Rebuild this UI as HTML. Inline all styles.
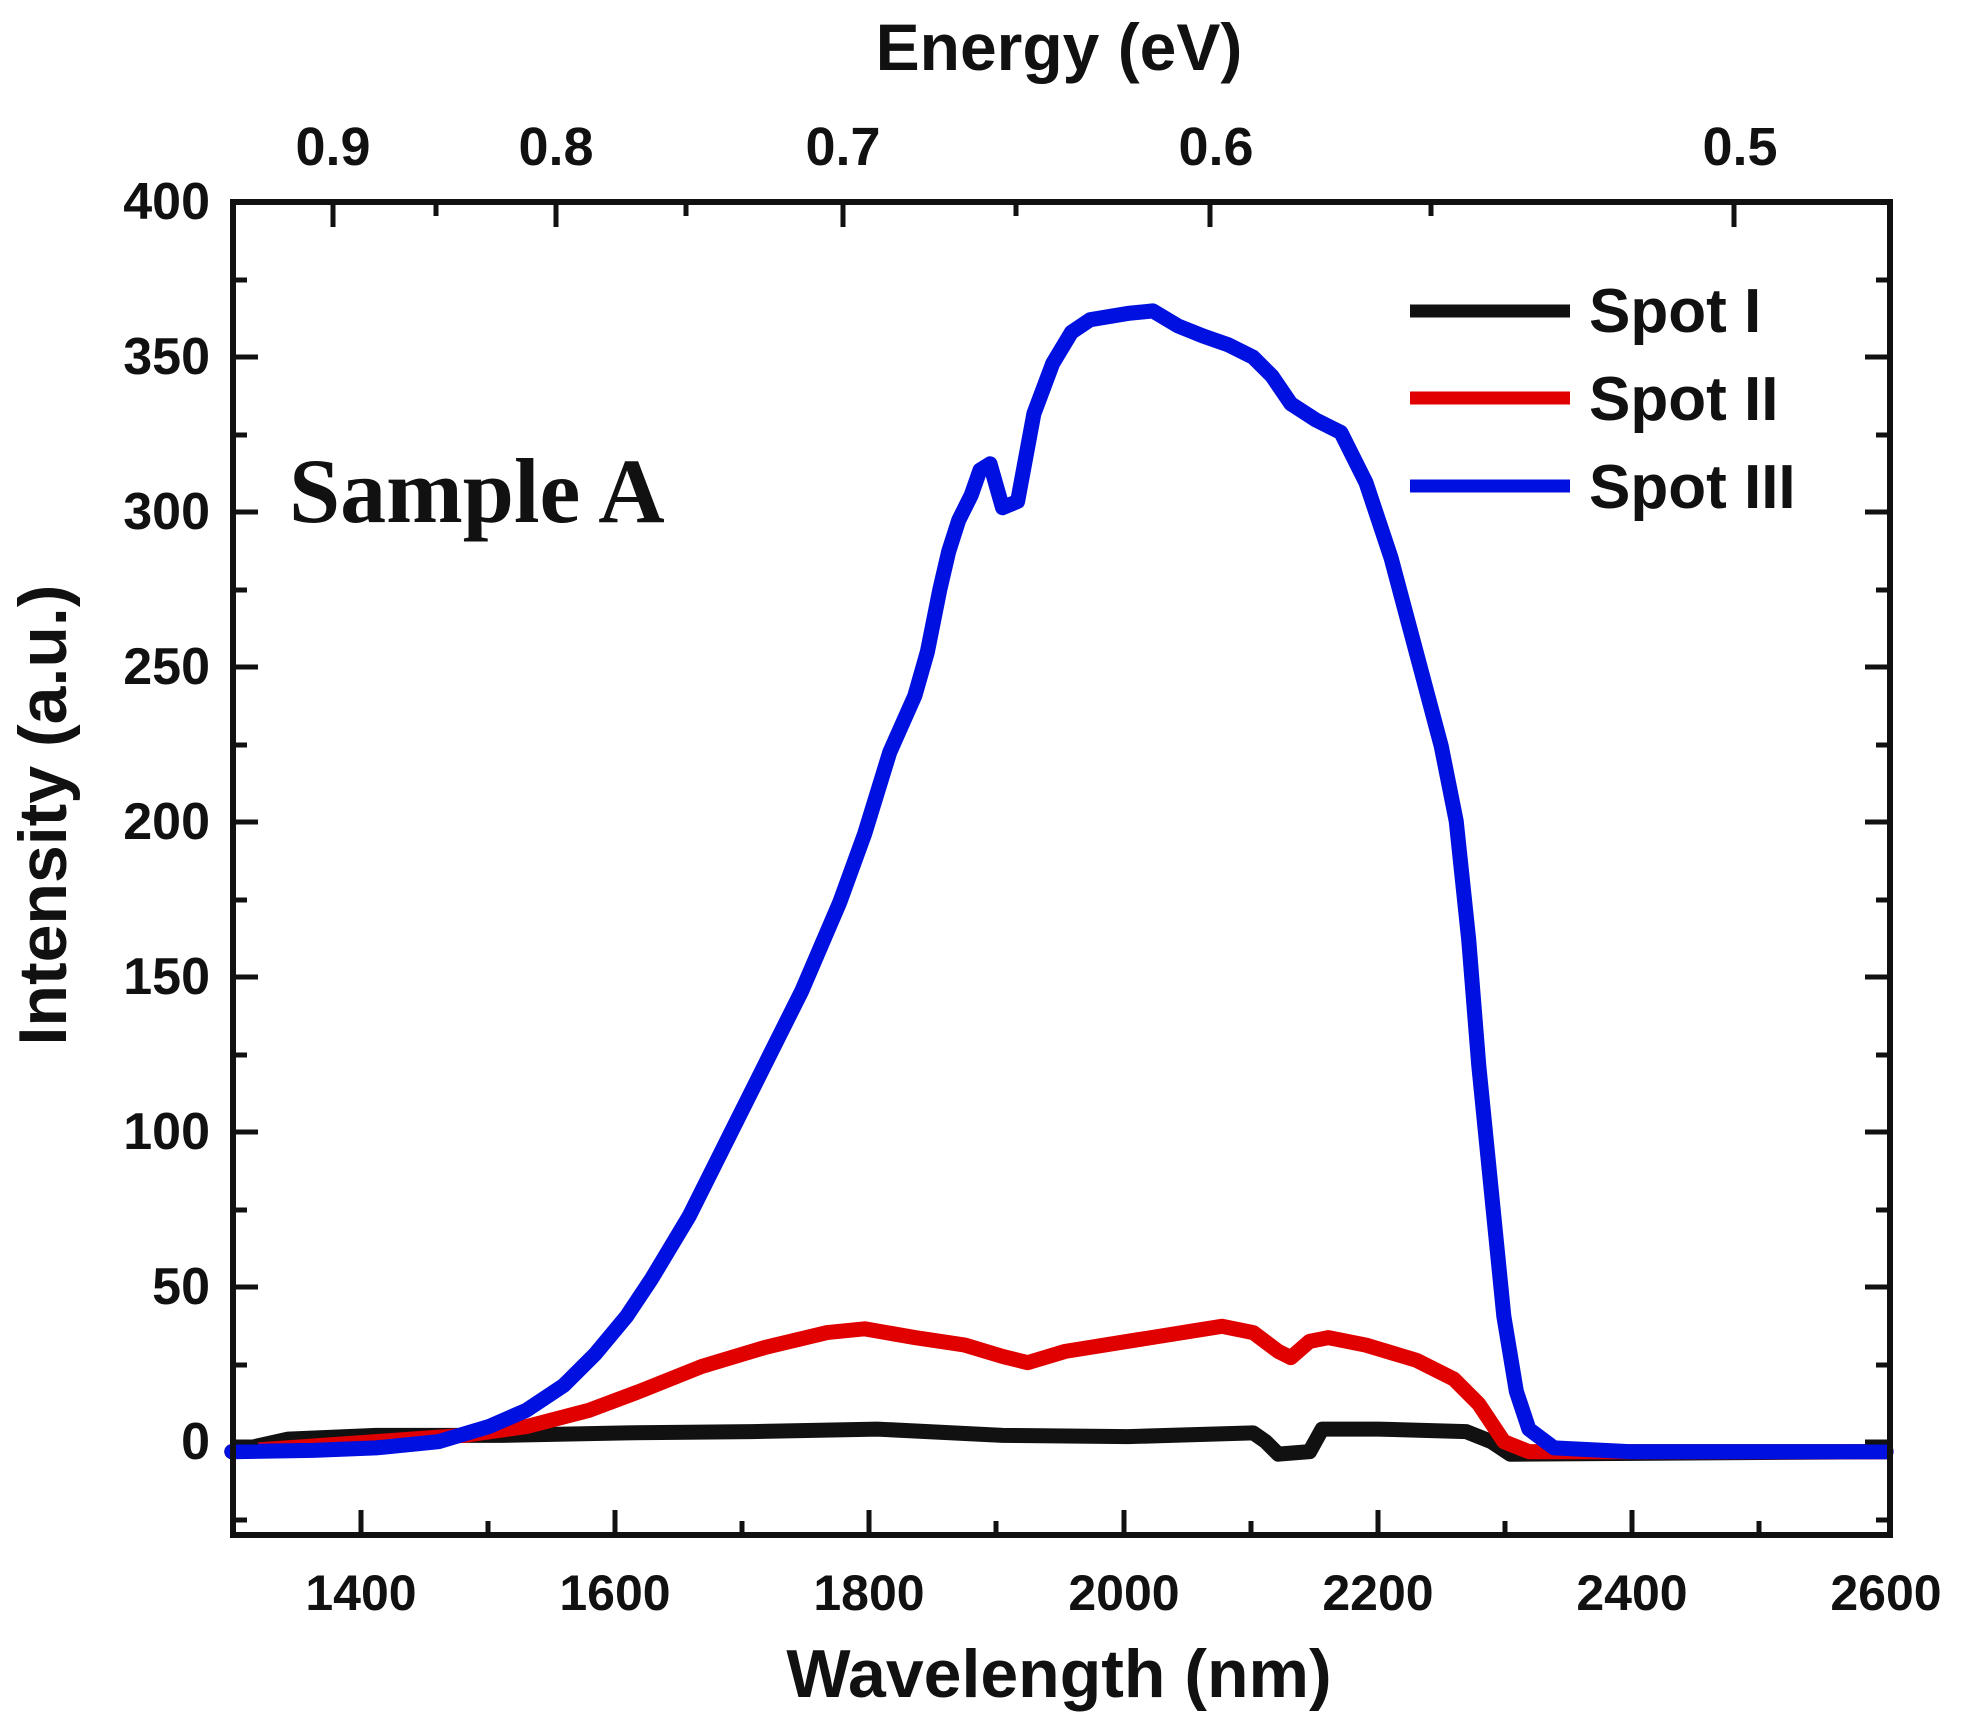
<!DOCTYPE html>
<html><head><style>
html,body{margin:0;padding:0;background:#fff;}
svg{display:block;}
text{font-family:"Liberation Sans",sans-serif;font-weight:bold;fill:#111;}
</style></head><body>
<svg width="1965" height="1725" viewBox="0 0 1965 1725" xmlns="http://www.w3.org/2000/svg">
<g transform="scale(1.2532,1.2536)" fill="none" stroke-linejoin="round" stroke-linecap="round">
<polyline stroke="#111" stroke-width="12" points="185,1158 230,1148 300,1145 400,1145 500,1143 600,1142 700,1140 800,1145 900,1146 1000,1143 1010,1150 1020,1160 1045,1158 1055,1140 1100,1140 1170,1142 1190,1150 1205,1160 1505,1158"/>
<polyline stroke="#e00000" stroke-width="12" points="185,1158 300,1150 370,1145 420,1138 470,1125 510,1110 560,1090 610,1075 660,1063 690,1060 730,1067 770,1073 800,1082 820,1087 850,1078 900,1070 950,1062 975,1058 1000,1063 1020,1078 1030,1083 1045,1070 1060,1067 1090,1073 1130,1085 1160,1100 1180,1120 1200,1150 1220,1158 1505,1158"/>
<polyline stroke="#0010e0" stroke-width="12" points="185,1158 250,1157 300,1155 350,1150 390,1138 420,1125 450,1105 475,1080 500,1050 520,1020 550,970 580,910 610,850 640,790 670,720 690,665 710,600 730,555 740,520 750,470 757,440 765,415 775,395 782,375 790,370 800,405 812,400 825,330 840,290 855,265 870,255 900,250 920,248 940,260 960,268 980,275 1000,285 1015,300 1030,322 1050,335 1070,345 1090,385 1110,445 1130,520 1150,595 1162,655 1172,750 1180,850 1190,950 1200,1050 1210,1110 1220,1140 1240,1155 1300,1158 1505,1158"/>
</g>
<g stroke="#111" fill="none">
<rect x="233" y="202" width="1657" height="1333" stroke-width="6"/>
<g stroke-width="5">
<path d="M233,202h25M233,357h25M233,512h25M233,667h25M233,822h25M233,977h25M233,1132h25M233,1287h25M233,1442h25
M1890,357h-25M1890,512h-25M1890,667h-25M1890,822h-25M1890,977h-25M1890,1132h-25M1890,1287h-25M1890,1442h-25"/>
<path d="M233,280h14M233,435h14M233,590h14M233,745h14M233,900h14M233,1055h14M233,1210h14M233,1365h14M233,1520h14
M1890,280h-14M1890,435h-14M1890,590h-14M1890,745h-14M1890,900h-14M1890,1055h-14M1890,1210h-14M1890,1365h-14M1890,1520h-14"/>
<path d="M361,1535v-25M615,1535v-25M869,1535v-25M1124,1535v-25M1378,1535v-25M1632,1535v-25"/>
<path d="M488,1535v-14M742,1535v-14M996,1535v-14M1251,1535v-14M1505,1535v-14M1759,1535v-14"/>
<path d="M333,202v25M556,202v25M843,202v25M1210,202v25M1734,202v25"/>
<path d="M436,202v14M686,202v14M1016,202v14M1431,202v14"/>
</g>
<path d="M1410,311h160" stroke="#111" stroke-width="13"/>
<path d="M1410,398h160" stroke="#e00000" stroke-width="13"/>
<path d="M1410,486h160" stroke="#0010e0" stroke-width="13"/>
</g>
<g font-size="52" text-anchor="end">
<text x="210" y="219">400</text><text x="210" y="374">350</text><text x="210" y="529">300</text>
<text x="210" y="684">250</text><text x="210" y="839">200</text><text x="210" y="994">150</text>
<text x="210" y="1149">100</text><text x="210" y="1304">50</text><text x="210" y="1459">0</text>
</g>
<g font-size="50" text-anchor="middle">
<text x="361" y="1610">1400</text><text x="615" y="1610">1600</text><text x="869" y="1610">1800</text>
<text x="1124" y="1610">2000</text><text x="1378" y="1610">2200</text><text x="1632" y="1610">2400</text><text x="1886" y="1610">2600</text>
</g>
<g font-size="54" text-anchor="middle">
<text x="333" y="165">0.9</text><text x="556" y="165">0.8</text><text x="843" y="165">0.7</text>
<text x="1216" y="165">0.6</text><text x="1740" y="165">0.5</text>
</g>
<text x="1059" y="1697" font-size="68" text-anchor="middle">Wavelength (nm)</text>
<text x="1059" y="70" font-size="66" text-anchor="middle">Energy (eV)</text>
<text transform="translate(66,815) rotate(-90)" font-size="68" text-anchor="middle">Intensity (a.u.)</text>
<g font-size="62">
<text x="1589" y="332">Spot I</text>
<text x="1589" y="420">Spot II</text>
<text x="1589" y="508">Spot III</text>
</g>
<text x="289" y="522" font-size="92" style="font-family:'Liberation Serif',serif;font-weight:bold">Sample A</text>
</svg>
</body></html>
